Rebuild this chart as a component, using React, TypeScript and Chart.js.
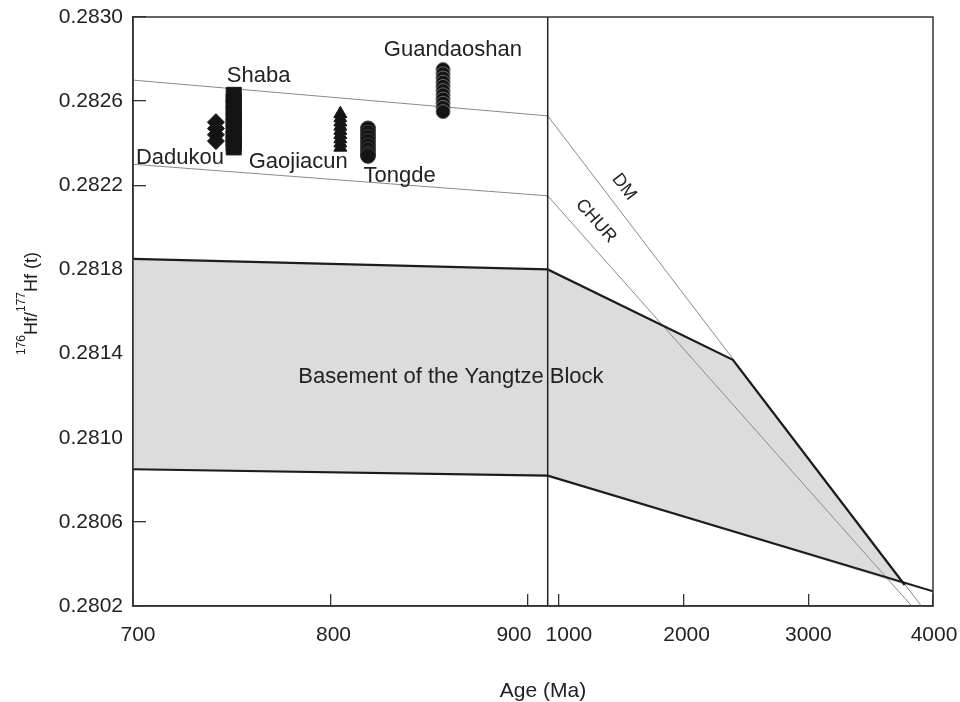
import React, { useEffect, useRef } from 'react';
import { Chart, registerables } from 'chart.js';

Chart.register(...registerables);

// ---------- Broken age axis: 700–910 Ma (left panel) and 910–4000 Ma (right panel)
const AGE_MIN = 700;
const AGE_BREAK = 910;
const AGE_MAX = 4000;
const LEFT_SPAN = 414.7;
const RIGHT_SPAN = 385.3;
const ax = (age: number) =>
  age <= AGE_BREAK
    ? ((age - AGE_MIN) / (AGE_BREAK - AGE_MIN)) * LEFT_SPAN
    : LEFT_SPAN + ((age - AGE_BREAK) / (AGE_MAX - AGE_BREAK)) * RIGHT_SPAN;

// ---------- Ticks
const X_TICKS = [700, 800, 900, 1000, 2000, 3000, 4000];
const X_TICK_LABEL_SHIFT = [5, 3, -14, 10, 3, 0, 1];
const Y_TICKS = [0.2802, 0.2806, 0.281, 0.2814, 0.2818, 0.2822, 0.2826, 0.283];

// ---------- Reference lines
const DM_LEFT_AGE = [700, 910];
const DM_LEFT_HF = [0.2827, 0.28253];
const DM_AGE = [910, 3907];
const DM_HF = [0.28253, 0.2802];
const CHUR_LEFT_AGE = [700, 910];
const CHUR_LEFT_HF = [0.2823, 0.28215];
const CHUR_AGE = [910, 3829];
const CHUR_HF = [0.28215, 0.2802];
const BASE_UPPER_AGE = [700, 910, 2395, 3773];
const BASE_UPPER_HF = [0.28185, 0.2818, 0.28137, 0.2803];
const BASE_LOWER_AGE = [700, 910, 4000];
const BASE_LOWER_HF = [0.28085, 0.28082, 0.28027];
const DIVIDER_AGE = [910, 910];
const DIVIDER_HF = [0.2802, 0.283];

// ---------- Zircon samples
const DADUKOU_AGE = 742;
const DADUKOU_HF = [0.2825, 0.28247, 0.28244, 0.28241];
const SHABA_AGE = 751;
const SHABA_HF = [0.28263, 0.2826, 0.28257, 0.28254, 0.28251, 0.28248, 0.28245, 0.28242, 0.2824, 0.28238];
const GAOJIACUN_AGE = 805;
const GAOJIACUN_HF = [0.28254, 0.28252, 0.2825, 0.28248, 0.28246, 0.28244, 0.28242, 0.2824, 0.28238];
const TONGDE_AGE = 819;
const TONGDE_HF = [0.28247, 0.28245, 0.28243, 0.28241, 0.28239, 0.28237, 0.28235, 0.28234];
const GUANDAOSHAN_AGE = 857;
const GUANDAOSHAN_HF = [0.28275, 0.28273, 0.28271, 0.28269, 0.28267, 0.28265, 0.28263, 0.28261, 0.28259, 0.28257, 0.28255];

// ---------- Text annotations (age, Hf, rotation deg, font px)
const ANNOTATIONS: { text: string; age: number; hf: number; rot: number; size: number }[] = [
  { text: 'Shaba', age: 763.6, hf: 0.28272, rot: 0, size: 22 },
  { text: 'Dadukou', age: 723.8, hf: 0.28233, rot: 0, size: 22 },
  { text: 'Gaojiacun', age: 783.7, hf: 0.282312, rot: 0, size: 22 },
  { text: 'Tongde', age: 835, hf: 0.282246, rot: 0, size: 22 },
  { text: 'Guandaoshan', age: 862, hf: 0.282843, rot: 0, size: 22 },
  { text: 'Basement of the Yangtze Block', age: 861, hf: 0.28129, rot: 0, size: 22 },
  { text: 'DM', age: 1522, hf: 0.282192, rot: 52.7, size: 18 },
  { text: 'CHUR', age: 1297, hf: 0.28203, rot: 48.4, size: 18 },
];

const FONT = '"Liberation Sans", Arial, Helvetica, sans-serif';
const TEXT = '#222222';

const pts = (ages: number[], hfs: number[]) => ages.map((a, i) => ({ x: ax(a), y: hfs[i] }));
const col = (age: number, hfs: number[]) => hfs.map((h) => ({ x: ax(age), y: h }));

const basementPolygon = () => {
  const upper = pts(BASE_UPPER_AGE, BASE_UPPER_HF);
  const endAge = BASE_UPPER_AGE[BASE_UPPER_AGE.length - 1];
  const lower = pts(BASE_LOWER_AGE, BASE_LOWER_HF).filter((_, i) => BASE_LOWER_AGE[i] < endAge).reverse();
  return [...upper, ...lower];
};

const textPlugin = {
  id: 'textPlugin',
  afterDatasetsDraw(chart: any) {
    const { ctx, chartArea, scales } = chart;
    const xs = scales.x;
    const ys = scales.y;
    ctx.save();
    // frame
    ctx.strokeStyle = '#333';
    ctx.lineWidth = 1.5;
    ctx.strokeRect(chartArea.left, chartArea.top, chartArea.right - chartArea.left, chartArea.bottom - chartArea.top);

    ctx.fillStyle = TEXT;
    // annotations
    for (const a of ANNOTATIONS) {
      const px = xs.getPixelForValue(ax(a.age));
      const py = ys.getPixelForValue(a.hf);
      ctx.save();
      ctx.translate(px, py);
      ctx.rotate((a.rot * Math.PI) / 180);
      ctx.font = `${a.size}px ${FONT}`;
      ctx.textAlign = 'center';
      ctx.textBaseline = 'middle';
      ctx.fillText(a.text, 0, 0);
      ctx.restore();
    }

    // x tick labels
    ctx.font = `21px ${FONT}`;
    ctx.textAlign = 'center';
    ctx.textBaseline = 'middle';
    X_TICKS.forEach((t, i) => {
      const px = xs.getPixelForValue(ax(t)) + X_TICK_LABEL_SHIFT[i];
      ctx.fillText(String(t), px, chartArea.bottom + 29);
    });

    // x title
    ctx.font = `21px ${FONT}`;
    ctx.fillText('Age (Ma)', (chartArea.left + chartArea.right) / 2 + 10, chartArea.bottom + 85);

    // y title with superscripts
    const segs = [
      { t: '176', sup: true },
      { t: 'Hf/', sup: false },
      { t: '177', sup: true },
      { t: 'Hf (t)', sup: false },
    ];
    const mainF = `18px ${FONT}`;
    const supF = `12px ${FONT}`;
    let total = 0;
    for (const s of segs) {
      ctx.font = s.sup ? supF : mainF;
      total += ctx.measureText(s.t).width;
    }
    ctx.translate(30, (chartArea.top + chartArea.bottom) / 2 - 8);
    ctx.rotate(-Math.PI / 2);
    ctx.textAlign = 'left';
    ctx.textBaseline = 'alphabetic';
    let cx = -total / 2;
    for (const s of segs) {
      ctx.font = s.sup ? supF : mainF;
      ctx.fillText(s.t, cx, s.sup ? -5.5 : 6.5);
      cx += ctx.measureText(s.t).width;
    }
    ctx.restore();
  },
};

export default function App() {
  const ref = useRef<HTMLCanvasElement | null>(null);
  useEffect(() => {
    if (!ref.current) return;
    const thin = { borderColor: '#8a8a8a', borderWidth: 1, pointRadius: 0, showLine: true, fill: false, order: 5 };
    const thick = { borderColor: '#1c1c1c', borderWidth: 2.2, pointRadius: 0, showLine: true, fill: false, order: 4 };
    const marker = (style: string, r: number, border: string) => ({
      showLine: false,
      pointStyle: style,
      pointRadius: r,
      backgroundColor: '#141414',
      borderColor: border,
      borderWidth: 1,
      order: 1,
    });
    const chart = new Chart(ref.current, {
      type: 'scatter',
      data: {
        datasets: [
          { label: 'Basement', data: basementPolygon(), showLine: true, fill: 'shape', backgroundColor: '#dcdcdc', borderWidth: 0, borderColor: 'rgba(0,0,0,0)', pointRadius: 0, order: 10 } as any,
          { label: 'DM (left)', data: pts(DM_LEFT_AGE, DM_LEFT_HF), ...thin },
          { label: 'DM', data: pts(DM_AGE, DM_HF), ...thin },
          { label: 'CHUR (left)', data: pts(CHUR_LEFT_AGE, CHUR_LEFT_HF), ...thin },
          { label: 'CHUR', data: pts(CHUR_AGE, CHUR_HF), ...thin },
          { label: 'Basement upper', data: pts(BASE_UPPER_AGE, BASE_UPPER_HF), ...thick },
          { label: 'Basement lower', data: pts(BASE_LOWER_AGE, BASE_LOWER_HF), ...thick },
          { label: 'Divider', data: pts(DIVIDER_AGE, DIVIDER_HF), borderColor: '#222', borderWidth: 1.5, pointRadius: 0, showLine: true, order: 3 },
          { label: 'Dadukou', data: col(DADUKOU_AGE, DADUKOU_HF), ...marker('rectRot', 8.5, '#141414') },
          { label: 'Shaba', data: col(SHABA_AGE, SHABA_HF), ...marker('rect', 10.6, '#141414') },
          { label: 'Gaojiacun', data: col(GAOJIACUN_AGE, GAOJIACUN_HF), ...marker('triangle', 7.5, '#141414') },
          { label: 'Tongde', data: col(TONGDE_AGE, TONGDE_HF), ...marker('circle', 7.5, '#3a3a3a') },
          { label: 'Guandaoshan', data: col(GUANDAOSHAN_AGE, GUANDAOSHAN_HF), ...marker('circle', 7, '#6a6a6a') },
        ] as any,
      },
      options: {
        responsive: false,
        animation: false,
        layout: { padding: { top: 17, right: 27, left: 0, bottom: 0 } },
        plugins: { legend: { display: false }, tooltip: { enabled: false } },
        scales: {
          x: {
            type: 'linear',
            min: 0,
            max: LEFT_SPAN + RIGHT_SPAN,
            afterBuildTicks: (s: any) => {
              s.ticks = X_TICKS.map((t) => ({ value: ax(t) }));
            },
            afterFit: (s: any) => {
              s.height = 96;
              s.paddingLeft = 0;
              s.paddingRight = 0;
            },
            ticks: { display: false },
            grid: { drawOnChartArea: false, drawTicks: true, tickLength: -12, color: '#333', lineWidth: 1.3 },
            border: { display: true, color: '#333', width: 1.5 },
          },
          y: {
            type: 'linear',
            min: 0.2802,
            max: 0.283,
            afterBuildTicks: (s: any) => {
              s.ticks = Y_TICKS.map((v) => ({ value: v }));
            },
            afterFit: (s: any) => {
              s.width = 133;
              s.paddingTop = 0;
              s.paddingBottom = 0;
            },
            ticks: {
              callback: (v: any) => Number(v).toFixed(4),
              font: { size: 21, family: FONT },
              color: TEXT,
              padding: 23,
            },
            grid: { drawOnChartArea: false, drawTicks: true, tickLength: -13, color: '#333', lineWidth: 1.3 },
            border: { display: true, color: '#333', width: 1.5 },
          },
        },
      } as any,
      plugins: [textPlugin],
    });
    return () => chart.destroy();
  }, []);

  return (
    <div style={{ position: 'absolute', left: 0, top: 0, width: 960, height: 702, background: '#fff' }}>
      <canvas ref={ref} width={960} height={702} style={{ display: 'block', width: 960, height: 702 }} />
    </div>
  );
}
